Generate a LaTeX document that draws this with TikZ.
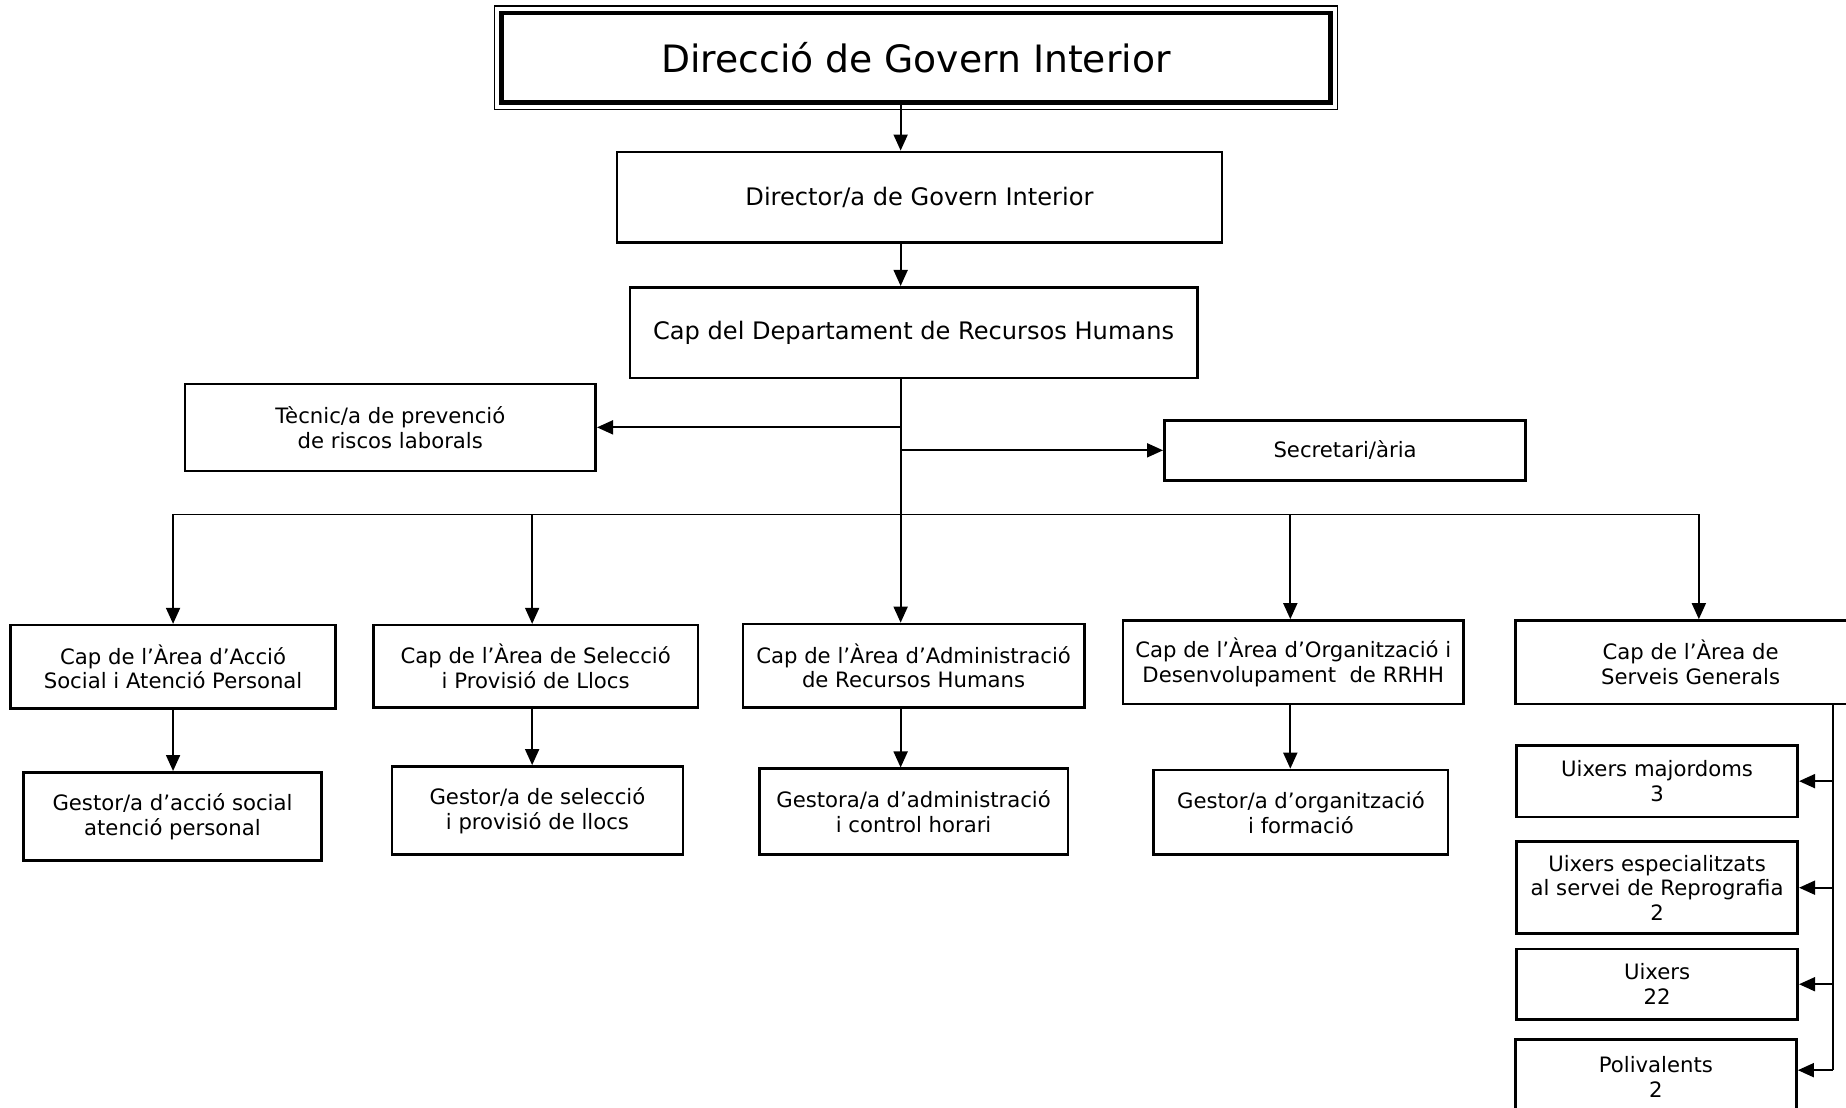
\documentclass[tikz,border=0pt]{standalone}
\usepackage{fontspec}
\setmainfont{DejaVu Sans}
\usetikzlibrary{arrows.meta}
\newcommand\ubox[7]{\node[orgbox,minimum width={(#4-#2)*1.1773pt},minimum height={(#5-#3)*1.1773pt},#6] (#1) at ({(#2+#4)/2},{(#3+#5)/2}) {#7};}
\begin{document}
\begin{tikzpicture}[x=1.1773pt,y=-1.1773pt,
  orgbox/.style={draw,line width=2.6pt,inner sep=0pt,align=center,font=\fontsize{21.2}{24.7}\selectfont},
  big/.style={font=\fontsize{24.1}{28}\selectfont},
  conn/.style={line width=1.8pt},
  arr/.style={line width=1.8pt,-{Triangle[length=16pt,width=14pt]}}]
\useasboundingbox (0,0) rectangle (1568,941);
\clip (0,0) rectangle (1568,941);

\ubox{title}{426}{11}{1130}{87}{line width=4.5pt,font=\fontsize{37.7}{44}\selectfont}{Direcció de Govern Interior}
\draw[line width=1.2pt] ([xshift=-4.8pt,yshift=4.8pt]title.north west) rectangle ([xshift=4.8pt,yshift=-4.8pt]title.south east);

\ubox{dir}{524}{129}{1038}{206}{big}{Director/a de Govern Interior}
\ubox{dept}{535}{244}{1017}{321}{big}{Cap del Departament de Recursos Humans}
\ubox{tec}{157}{326}{506}{400}{}{Tècnic/a de prevenció\\de riscos laborals}
\ubox{sec}{989}{357}{1296}{408}{}{Secretari/ària}
\ubox{a1}{9}{531}{285}{602}{}{Cap de l’Àrea d’Acció\\Social i Atenció Personal}
\ubox{a2}{317}{531}{593}{601}{}{Cap de l’Àrea de Selecció\\i Provisió de Llocs}
\ubox{a3}{631}{530}{921}{601}{}{Cap de l’Àrea d’Administració\\de Recursos Humans}
\ubox{a4}{954}{527}{1243}{598}{}{Cap de l’Àrea d’Organització i\\Desenvolupament~ de RRHH}
\ubox{a5}{1287}{527}{1585}{598}{}{Cap de l’Àrea de\\Serveis Generals}
\ubox{b1}{20}{656}{273}{731}{}{Gestor/a d’acció social\\atenció personal}
\ubox{b2}{333}{651}{580}{726}{}{Gestor/a de selecció\\i provisió de llocs}
\ubox{b3}{645}{653}{907}{726}{}{Gestora/a d’administració\\i control horari}
\ubox{b4}{980}{654}{1230}{726}{}{Gestor/a d’organització\\i formació}
\ubox{c1}{1288}{633}{1527}{694}{}{Uixers majordoms\\3}
\ubox{c2}{1288}{715}{1527}{793}{}{Uixers especialitzats\\al servei de Reprografia\\2}
\ubox{c3}{1288}{806}{1527}{866}{}{Uixers\\22}
\ubox{c4}{1287}{883}{1526}{946}{}{Polivalents\\2}

\coordinate (x1) at (147,437);
\coordinate (x2) at (452,437);
\coordinate (x3) at (765,437);
\coordinate (x4) at (1096,437);
\coordinate (x5) at (1443,437);
\coordinate (sv) at (1557,0);
\coordinate (p4) at (1557,909);

\draw[arr] (title.south -| x3) -- (dir.north -| x3);
\draw[arr] (dir.south -| x3) -- (dept.north -| x3);
\draw[conn] (dept.south -| x3) -- (x3);
\draw[arr] (tec.east -| x3) -- (tec.east);
\draw[arr] (sec.west -| x3) -- (sec.west);
\draw[conn] (x1) -- (x5);
\foreach \i in {1,...,5} {\draw[arr] (x\i) -- (a\i.north -| x\i);}
\foreach \i in {1,...,4} {\draw[arr] (a\i.south -| x\i) -- (b\i.north -| x\i);}
\draw[conn] (a5.south -| sv) -- (p4);
\foreach \i in {1,...,3} {\draw[arr] (c\i.east -| sv) -- (c\i.east);}
\draw[arr] (p4) -- (p4 -| c4.east);
\end{tikzpicture}
\end{document}
